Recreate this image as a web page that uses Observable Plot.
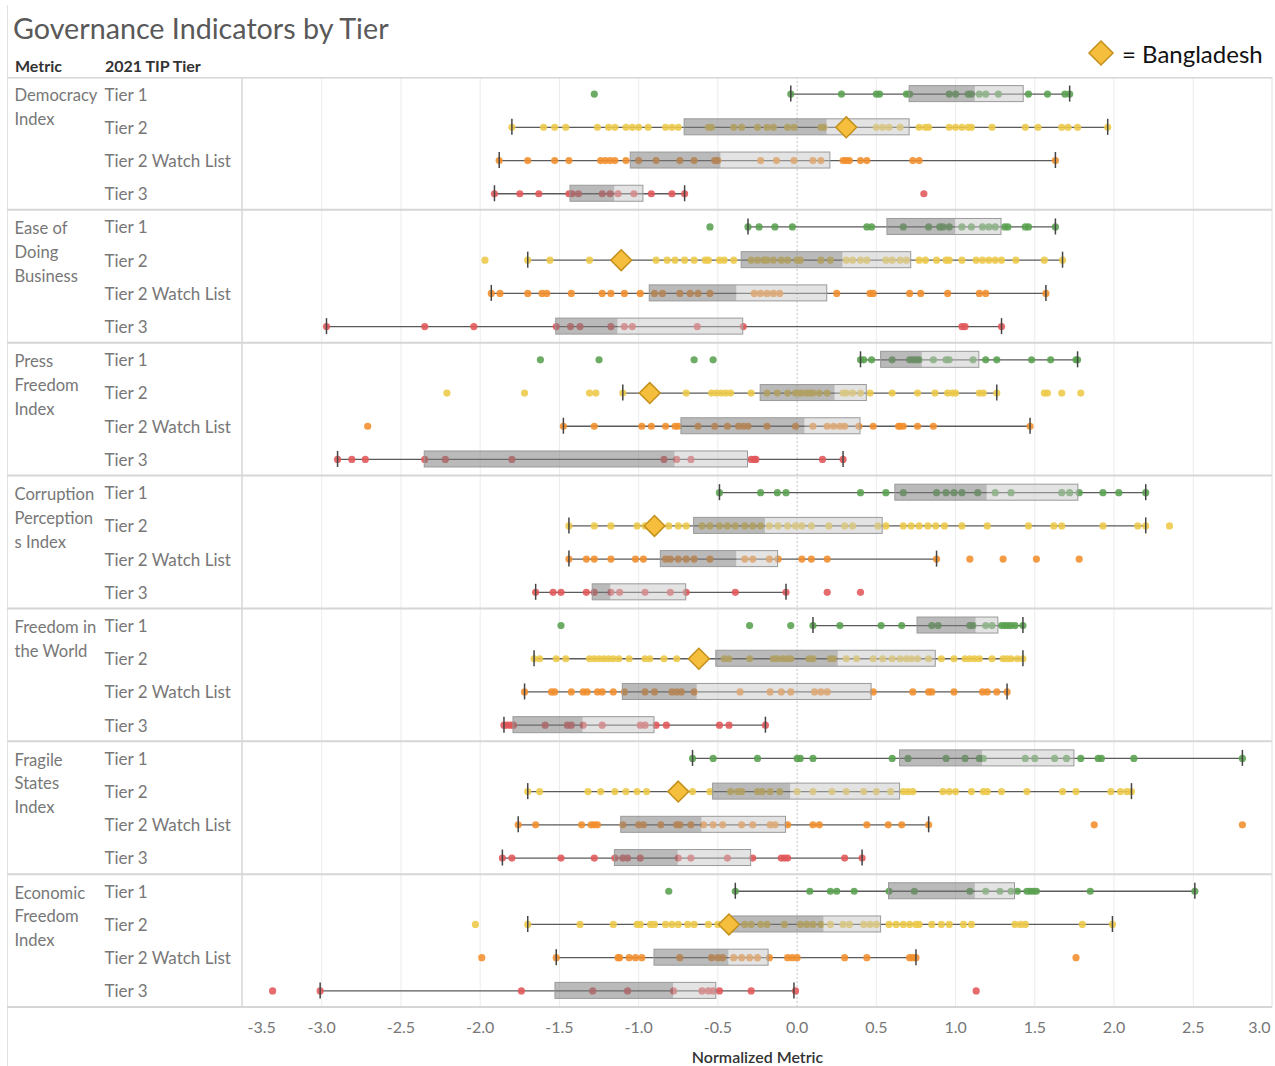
<!DOCTYPE html>
<html><head><meta charset="utf-8">
<script src="https://cdn.jsdelivr.net/npm/d3@7"></script>
<script src="https://cdn.jsdelivr.net/npm/@observablehq/plot@0.6"></script>
<style>
body{margin:0;background:#fff;font-family:Lato,"Open Sans",sans-serif;}
#wrap{position:relative;width:1275px;height:1066px;overflow:hidden;background:#fff;}
#edge{position:absolute;left:7px;top:5px;width:1px;height:1061px;background:#e2e2e2;}
#title{position:absolute;left:13px;top:11px;font-size:28.7px;color:#595959;white-space:nowrap;}
.hdr{position:absolute;top:56px;font-size:16px;font-weight:bold;color:#333;white-space:nowrap;}
#legend{position:absolute;left:1086px;top:38px;display:flex;align-items:center;white-space:nowrap;}
#legend span{font-size:24px;color:#111;margin-left:6px;}
#chart{position:absolute;left:0;top:77px;}
#chart svg{display:block;}
</style></head>
<body>
<div id="wrap">
  <div id="edge"></div>
  <div id="title">Governance Indicators by Tier</div>
  <div class="hdr" style="left:15px">Metric</div>
  <div class="hdr" style="left:105px">2021 TIP Tier</div>
  <div id="legend"><svg width="30" height="30"><polygon points="15,3 27,15 15,27 3,15" fill="#f5be3c" stroke="#c4901c" stroke-width="1.5"/></svg><span>= Bangladesh</span></div>
  <div id="chart"></div>
</div>
<script>
const metrics = ["Democracy Index","Ease of Doing Business","Press Freedom Index","Corruption Perceptions Index","Freedom in the World","Fragile States Index","Economic Freedom Index"];
const metricLabels = ["Democracy\nIndex","Ease of\nDoing\nBusiness","Press\nFreedom\nIndex","Corruption\nPerception\ns Index","Freedom in\nthe World","Fragile\nStates\nIndex","Economic\nFreedom\nIndex"];
const tiers = ["Tier 1","Tier 2","Tier 2 Watch List","Tier 3"];
const tierColors = ["#59a14f","#edc948","#f28e2b","#e15759"];
const xTicks = [-3.5,-3.0,-2.5,-2.0,-1.5,-1.0,-0.5,0.0,0.5,1.0,1.5,2.0,2.5,3.0];

// box statistics, metric-major order (Tier 1, Tier 2, Tier 2 WL, Tier 3)
const boxLow = [-0.04,-1.80,-1.88,-1.91, -0.31,-1.70,-1.93,-2.97, 0.40,-1.10,-1.475,-2.90, -0.49,-1.44,-1.44,-1.65, 0.10,-1.66,-1.72,-1.85, -0.66,-1.70,-1.76,-1.86, -0.39,-1.70,-1.52,-3.01];
const boxQ1 = [0.71,-0.71,-1.05,-1.43, 0.57,-0.35,-0.93,-1.52, 0.53,-0.23,-0.73,-2.35, 0.62,-0.65,-0.86,-1.29, 0.76,-0.51,-1.10,-1.79, 0.65,-0.53,-1.11,-1.15, 0.58,-0.42,-0.90,-1.525];
const boxMedian = [1.125,0.19,-0.48,-1.15, 1.00,0.29,-0.38,-1.13, 0.79,0.24,0.05,-0.77, 1.20,-0.20,-0.38,-1.175, 1.13,0.26,-0.63,-1.35, 1.17,-0.04,-0.60,-0.75, 1.125,0.17,-0.43,-0.78];
const boxQ3 = [1.43,0.71,0.21,-0.97, 1.29,0.72,0.19,-0.34, 1.15,0.44,0.40,-0.31, 1.775,0.54,-0.12,-0.70, 1.27,0.875,0.47,-0.90, 1.75,0.65,-0.07,-0.29, 1.375,0.53,-0.18,-0.51];
const boxHigh = [1.72,1.96,1.63,-0.71, 1.63,1.675,1.57,1.29, 1.77,1.26,1.47,0.29, 2.20,2.20,0.88,-0.07, 1.425,1.425,1.325,-0.20, 2.81,2.11,0.83,0.41, 2.51,1.99,0.75,-0.02];
const bangladesh = [0.31,-1.11,-0.93,-0.90,-0.62,-0.75,-0.43];

const dotsDemocracy = [
 [-1.28,-0.04,0.28,0.50,0.52,0.69,0.71,0.96,1.00,1.08,1.10,1.15,1.19,1.27,1.46,1.58,1.69,1.72],
 [-1.80,-1.60,-1.53,-1.46,-1.26,-1.19,-1.15,-1.08,-1.04,-1.00,-0.94,-0.83,-0.79,-0.75,-0.56,-0.54,-0.40,-0.35,-0.25,-0.19,-0.15,-0.06,-0.02,0.15,0.17,0.50,0.54,0.58,0.65,0.77,0.81,0.83,0.96,1.00,1.04,1.08,1.10,1.23,1.44,1.52,1.67,1.71,1.77,1.96],
 [-1.88,-1.70,-1.53,-1.44,-1.24,-1.21,-1.18,-1.15,-1.08,-1.00,-0.89,-0.74,-0.65,-0.52,-0.50,-0.23,-0.13,-0.02,0.10,0.15,0.29,0.31,0.33,0.40,0.44,0.73,0.77,1.63],
 [-1.91,-1.75,-1.63,-1.44,-1.42,-1.38,-1.23,-1.18,-1.13,-1.03,-0.92,-0.79,-0.71,0.80]
];
const dotsEase = [
 [-0.55,-0.31,-0.24,-0.14,-0.03,0.44,0.47,0.67,0.83,0.90,0.92,0.96,1.04,1.10,1.17,1.21,1.25,1.31,1.33,1.44,1.46,1.63],
 [-1.97,-1.70,-1.56,-1.31,-0.89,-0.82,-0.77,-0.71,-0.65,-0.58,-0.56,-0.49,-0.46,-0.40,-0.29,-0.25,-0.21,-0.19,-0.15,-0.10,-0.06,0.00,0.02,0.15,0.21,0.31,0.35,0.40,0.44,0.56,0.60,0.65,0.69,0.77,0.81,0.88,0.94,0.96,1.04,1.13,1.17,1.21,1.25,1.29,1.38,1.56,1.675],
 [-1.93,-1.875,-1.70,-1.61,-1.58,-1.425,-1.23,-1.175,-1.09,-0.99,-0.90,-0.85,-0.74,-0.675,-0.625,-0.55,-0.27,-0.23,-0.19,-0.15,-0.11,0.25,0.46,0.48,0.71,0.78,0.95,1.15,1.19,1.57],
 [-2.97,-2.35,-2.04,-1.52,-1.43,-1.37,-1.175,-1.09,-1.04,-0.63,-0.34,1.04,1.06,1.29]
];
const dotsPress = [
 [-1.62,-1.25,-0.65,-0.53,0.40,0.42,0.47,0.60,0.71,0.73,0.75,0.77,0.86,0.94,0.96,1.11,1.19,1.26,1.48,1.60,1.76,1.77],
 [-2.21,-1.72,-1.31,-1.27,-1.10,-0.70,-0.54,-0.51,-0.48,-0.45,-0.42,-0.29,-0.19,-0.125,-0.06,-0.01,0.01,0.03,0.06,0.08,0.10,0.14,0.19,0.29,0.31,0.35,0.40,0.46,0.60,0.76,0.87,0.95,0.98,1.00,1.15,1.175,1.26,1.56,1.58,1.67,1.79],
 [-2.71,-1.475,-1.28,-0.98,-0.92,-0.83,-0.77,-0.75,-0.625,-0.52,-0.44,-0.37,-0.34,-0.31,-0.19,-0.01,0.10,0.19,0.23,0.27,0.30,0.39,0.48,0.64,0.65,0.67,0.76,0.86,1.47],
 [-2.90,-2.81,-2.725,-2.35,-2.22,-1.80,-0.84,-0.76,-0.67,-0.29,-0.27,-0.26,0.16,0.29]
];
const dotsCorruption = [
 [-0.49,-0.23,-0.125,-0.07,0.40,0.56,0.67,0.88,0.94,0.99,1.04,1.14,1.25,1.35,1.67,1.72,1.78,1.93,2.03,2.20],
 [-1.44,-1.28,-1.175,-1.01,-0.96,-0.81,-0.75,-0.70,-0.60,-0.55,-0.49,-0.44,-0.39,-0.33,-0.28,-0.23,-0.175,-0.12,-0.06,-0.01,0.03,0.09,0.20,0.30,0.35,0.51,0.56,0.67,0.72,0.77,0.825,0.875,0.93,1.04,1.20,1.46,1.62,1.67,1.93,2.15,2.20,2.35],
 [-1.44,-1.33,-1.28,-1.175,-1.02,-0.97,-0.83,-0.80,-0.75,-0.70,-0.65,-0.55,-0.33,-0.28,-0.175,-0.12,0.03,0.09,0.19,0.88,1.09,1.30,1.51,1.78],
 [-1.65,-1.54,-1.49,-1.33,-1.28,-1.175,-1.12,-0.96,-0.80,-0.70,-0.39,-0.07,0.19,0.40]
];
const dotsFreedomWorld = [
 [-1.49,-0.30,-0.04,0.10,0.27,0.53,0.66,0.85,0.89,1.09,1.11,1.19,1.23,1.29,1.31,1.33,1.35,1.375,1.425],
 [-1.66,-1.625,-1.52,-1.46,-1.31,-1.28,-1.25,-1.22,-1.19,-1.16,-1.125,-1.06,-0.96,-0.93,-0.84,-0.76,-0.46,-0.43,-0.30,-0.15,-0.125,-0.09,-0.06,-0.04,0.075,0.10,0.21,0.23,0.31,0.375,0.48,0.54,0.60,0.65,0.69,0.72,0.76,0.83,0.91,0.99,1.06,1.09,1.12,1.15,1.23,1.30,1.325,1.35,1.39,1.425],
 [-1.72,-1.55,-1.53,-1.425,-1.35,-1.325,-1.26,-1.23,-1.16,-1.09,-0.96,-0.90,-0.79,-0.76,-0.73,-0.65,-0.36,-0.17,-0.10,-0.04,0.11,0.15,0.19,0.48,0.73,0.83,0.85,0.99,1.17,1.20,1.26,1.325],
 [-1.85,-1.83,-1.81,-1.79,-1.59,-1.45,-1.425,-1.35,-1.23,-0.99,-0.96,-0.89,-0.825,-0.49,-0.43,-0.20]
];
const dotsFragile = [
 [-0.66,-0.53,-0.25,0.00,0.02,0.10,0.60,0.70,0.94,1.06,1.15,1.175,1.44,1.50,1.625,1.70,1.79,1.90,1.92,2.125,2.81],
 [-1.70,-1.625,-1.32,-1.24,-1.15,-1.08,-1.01,-0.95,-0.66,-0.55,-0.42,-0.375,-0.35,-0.25,-0.22,-0.17,-0.11,0.00,0.10,0.22,0.31,0.42,0.50,0.59,0.67,0.70,0.73,0.92,0.96,1.00,1.10,1.175,1.20,1.29,1.45,1.675,1.76,1.98,2.04,2.08,2.11],
 [-1.76,-1.65,-1.36,-1.30,-1.28,-1.26,-1.10,-1.00,-0.97,-0.86,-0.76,-0.74,-0.67,-0.59,-0.53,-0.47,-0.35,-0.28,-0.17,-0.14,-0.06,0.10,0.14,0.44,0.575,0.66,0.83,1.875,2.81],
 [-1.86,-1.80,-1.49,-1.28,-1.15,-1.10,-1.07,-0.99,-0.75,-0.67,-0.44,-0.28,-0.10,-0.08,-0.06,0.30,0.41]
];
const dotsEconomic = [
 [-0.81,-0.39,0.08,0.21,0.25,0.36,0.58,0.74,1.09,1.19,1.28,1.35,1.39,1.45,1.47,1.49,1.51,1.85,2.51],
 [-2.03,-1.70,-1.37,-1.16,-1.01,-0.99,-0.925,-0.90,-0.83,-0.79,-0.75,-0.69,-0.65,-0.56,-0.50,-0.33,-0.29,-0.23,-0.19,-0.08,0.02,0.06,0.10,0.15,0.21,0.29,0.33,0.42,0.46,0.50,0.58,0.625,0.67,0.71,0.75,0.77,0.85,0.91,0.96,1.05,1.10,1.375,1.41,1.44,1.80,1.99],
 [-1.99,-1.52,-1.13,-1.12,-1.06,-1.02,-0.98,-0.74,-0.54,-0.50,-0.47,-0.40,-0.35,-0.30,-0.25,-0.175,-0.06,-0.03,0.00,0.30,0.44,0.71,0.73,0.75,1.76],
 [-3.31,-3.01,-1.74,-1.29,-1.07,-0.78,-0.60,-0.56,-0.53,-0.49,-0.29,-0.01,1.13]
];
const allDots = [dotsDemocracy,dotsEase,dotsPress,dotsCorruption,dotsFreedomWorld,dotsFragile,dotsEconomic];

// build tables
const keys = [], rows = [], dots = [], bdRows = [], metricRows = [];
metrics.forEach((m, i) => {
  metricRows.push({key: m + "|" + tiers[0], label: metricLabels[i]});
  bdRows.push({key: m + "|" + tiers[1], v: bangladesh[i]});
  tiers.forEach((t, j) => {
    const key = m + "|" + t, k = i * 4 + j;
    keys.push(key);
    rows.push({key, tier: t, lo: boxLow[k], q1: boxQ1[k], med: boxMedian[k], q3: boxQ3[k], hi: boxHigh[k]});
    allDots[i][j].forEach(v => dots.push({key, tier: t, v}));
  });
});

function frameLines(index, scales, values, dimensions) {
  const {width, height, marginLeft, marginRight, marginTop, marginBottom} = dimensions;
  const bottom = height - marginBottom, right = width - marginRight;
  const bw = (bottom - marginTop) / keys.length;
  const ns = "http://www.w3.org/2000/svg";
  const g = document.createElementNS(ns, "g");
  const line = (x1, y1, x2, y2, stroke, sw) => {
    const l = document.createElementNS(ns, "line");
    l.setAttribute("x1", x1); l.setAttribute("y1", y1);
    l.setAttribute("x2", x2); l.setAttribute("y2", y2);
    l.setAttribute("stroke", stroke); l.setAttribute("stroke-width", sw);
    g.appendChild(l);
  };
  metrics.forEach((m, i) => {
    let y = scales.y ? scales.y(m + "|" + tiers[0]) : undefined;
    if (y == null || isNaN(y)) y = marginTop + i * 4 * bw;
    const yy = i === 0 ? y + 0.75 : y;
    line(7, yy, right, yy, "#d6d6d6", i === 0 ? 1.5 : 2);
  });
  line(7, bottom, right, bottom, "#d6d6d6", 2);
  line(marginLeft, marginTop, marginLeft, bottom, "#d6d6d6", 1.5);
  line(right, marginTop, right, bottom, "#e0e0e0", 1);
  return g;
}

const gridVals = xTicks.filter(d => d !== 0 && d > -3.5 && d < 3.0);
const fmt = d => d.toFixed(1);

const chart = Plot.plot({
  width: 1275, height: 989,
  marginLeft: 242, marginRight: 3, marginTop: 0, marginBottom: 59,
  x: {domain: [-3.5, 3.0], axis: null},
  y: {domain: keys, axis: null, padding: 0, round: false},
  color: {domain: tiers, range: tierColors},
  style: {fontFamily: "Lato, 'Open Sans', sans-serif", fontSize: "17px", background: "transparent", overflow: "visible"},
  marks: [
    Plot.ruleX(gridVals, {stroke: "#ececec", strokeWidth: 1}),
    Plot.ruleX([0], {stroke: "#c4c4c4", strokeDasharray: "2,2", strokeWidth: 1}),
    frameLines,
    Plot.ruleY(rows, {y: "key", x1: "lo", x2: "hi", stroke: "#5a5a5a", strokeWidth: 1.3}),
    Plot.dot(dots, {x: "v", y: "key", fill: "tier", r: 3.6, fillOpacity: 0.88}),
    Plot.barX(rows, {y: "key", x1: "q1", x2: "med", fill: "#7a7a7a", fillOpacity: 0.52, insetTop: 8.6, insetBottom: 8.6}),
    Plot.barX(rows, {y: "key", x1: "med", x2: "q3", fill: "#c4c4c4", fillOpacity: 0.48, insetTop: 8.6, insetBottom: 8.6}),
    Plot.barX(rows, {y: "key", x1: "q1", x2: "q3", fill: "none", stroke: "#9a9a9a", strokeWidth: 1, insetTop: 8.6, insetBottom: 8.6}),
    Plot.tickX(rows, {x: "lo", y: "key", stroke: "#444", strokeWidth: 1.5, insetTop: 8.6, insetBottom: 8.6}),
    Plot.tickX(rows, {x: "hi", y: "key", stroke: "#444", strokeWidth: 1.5, insetTop: 8.6, insetBottom: 8.6}),
    Plot.dot(bdRows, {x: "v", y: "key", symbol: "diamond2", r: 9.4, fill: "#f5be3c", stroke: "#c4901c", strokeWidth: 1.5}),
    Plot.text(rows, {y: "key", text: "tier", frameAnchor: "left", textAnchor: "start", lineAnchor: "middle", dx: -138, dy: 1, fill: "#777", fontSize: 17}),
    Plot.text(metricRows, {y: "key", text: "label", frameAnchor: "left", textAnchor: "start", dx: -228, lineAnchor: "top", dy: -9.5, lineHeight: 1.43, fill: "#777", fontSize: 16.6}),
    Plot.text(xTicks.slice(1, -1), {x: d => d, text: fmt, frameAnchor: "bottom", lineAnchor: "middle", dy: 20, fill: "#777", fontSize: 16}),
    Plot.text(xTicks.slice(0, 1), {x: d => d, text: fmt, frameAnchor: "bottom", lineAnchor: "middle", dy: 20, dx: 5, textAnchor: "start", fill: "#777", fontSize: 16}),
    Plot.text(xTicks.slice(-1), {x: d => d, text: fmt, frameAnchor: "bottom", lineAnchor: "middle", dy: 20, dx: -2, textAnchor: "end", fill: "#777", fontSize: 16}),
    Plot.text(["Normalized Metric"], {text: d => d, frameAnchor: "bottom", lineAnchor: "middle", dy: 50, fill: "#333", fontSize: 16, fontWeight: 600})
  ]
});
document.getElementById("chart").appendChild(chart);
</script>
</body></html>
